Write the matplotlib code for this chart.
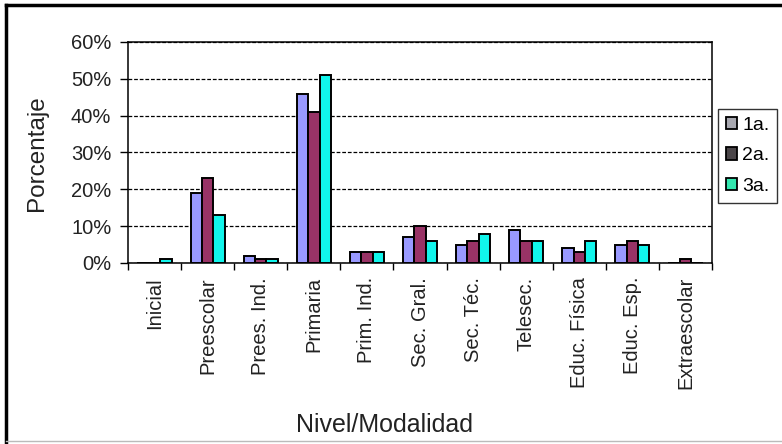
import numpy as np
import matplotlib
matplotlib.use('Agg')
import matplotlib.pyplot as plt
from matplotlib.patches import Patch
from matplotlib.lines import Line2D

plt.rcParams['font.family'] = ['Liberation Sans', 'DejaVu Sans']

categorias = ['Inicial', 'Preescolar', 'Prees. Ind.', 'Primaria', 'Prim. Ind.',
              'Sec. Gral.', 'Sec. Téc.', 'Telesec.', 'Educ. Física', 'Educ. Esp.',
              'Extraescolar']
series = ['1a.', '2a.', '3a.']
valores_1a = [0, 19, 2, 46, 3, 7, 5, 9, 4, 5, 0]
valores_2a = [0, 23, 1, 41, 3, 10, 6, 6, 3, 6, 1]
valores_3a = [1, 13, 1, 51, 3, 6, 8, 6, 6, 5, 0]
y_ticks = [0, 10, 20, 30, 40, 50, 60]

colores_barras = ['#9999FF', '#993366', '#11F5EC']
colores_leyenda = ['#A8A8B0', '#4A4548', '#33E8B0']

fig = plt.figure(figsize=(7.82, 4.44), dpi=100)
ax = fig.add_axes([128 / 782, 1 - 263 / 444, 584 / 782, 221 / 444])

x = np.arange(len(categorias))
ancho = 0.215
for i, vals in enumerate([valores_1a, valores_2a, valores_3a]):
    ax.bar(x + (i - 1) * ancho, vals, ancho, color=colores_barras[i],
           edgecolor='black', linewidth=1.4, zorder=3)

ax.set_xlim(-0.5, len(categorias) - 0.5)
ax.set_ylim(0, 60)
ax.set_yticks(y_ticks)
ax.set_yticklabels([str(v) + '%' for v in y_ticks], fontsize=14.5, color='#222222')
ax.yaxis.grid(True, linestyle=(0, (3, 1.5)), color='black', linewidth=0.9, zorder=0)

ax.set_xticks(x)
ax.set_xticklabels(categorias, rotation=90, fontsize=14.5, color='#222222')
ax.set_xticks(np.arange(-0.5, len(categorias)), minor=True)
ax.tick_params(axis='x', which='major', length=0, pad=10)
ax.tick_params(axis='x', which='minor', length=5, width=1)
ax.tick_params(axis='y', length=6, width=1, pad=6)

for s in ax.spines.values():
    s.set_linewidth(1.1)
    s.set_color('black')

fig.text(37 / 782, 1 - 153 / 444, 'Porcentaje', rotation=90, fontsize=17.5,
         ha='center', va='center', color='#222222')
fig.text(384 / 782, 1 - 425 / 444, 'Nivel/Modalidad', fontsize=18,
         ha='center', va='center', color='#222222')

handles = [Patch(facecolor=colores_leyenda[i], edgecolor='black', linewidth=1.3)
           for i in range(3)]
leg = fig.legend(handles, series, loc='upper left',
                 bbox_to_anchor=(718 / 782, 1 - 109 / 444), fontsize=14,
                 frameon=True, fancybox=False, edgecolor='black',
                 handlelength=0.6, handleheight=0.6, handletextpad=0.25,
                 labelspacing=0.7, borderpad=0.4, borderaxespad=0)
leg.get_frame().set_linewidth(1.0)

# marco exterior
fig.add_artist(Line2D([6 / 782, 1], [1 - 5 / 444, 1 - 5 / 444], color='black', linewidth=2.5))
fig.add_artist(Line2D([6 / 782, 6 / 782], [0, 1 - 5 / 444], color='black', linewidth=2.5))
fig.add_artist(Line2D([6 / 782, 1], [3 / 444, 3 / 444], color='#BBBBBB', linewidth=1))

fig.savefig('out.png', dpi=100)
